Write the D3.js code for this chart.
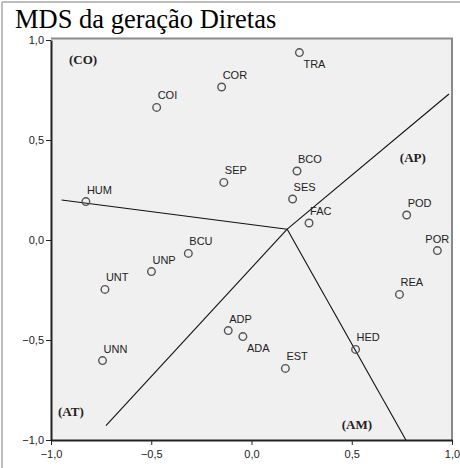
<!DOCTYPE html>
<html lang="pt">
<head>
<meta charset="UTF-8" />
<title>MDS da geração Diretas</title>
<script src="https://d3js.org/d3.v7.min.js"></script>
<style>
body {
    margin: 0;
    padding: 0;
    background: #fff;
}
svg {
    display: block;
}
.tick text {
    font-family: Arial, "Liberation Sans", sans-serif;
    font-size: 11px;
    fill: #222;
}
.pt-label {
    font-family: Arial, "Liberation Sans", sans-serif;
    font-size: 11px;
    fill: #222;
}
.region {
    font-family: "Liberation Serif", "Times New Roman", serif;
    font-size: 13px;
    font-weight: bold;
    fill: #222;
}
</style>
</head>
<body>
<svg width="460" height="468"></svg>
<script>
// point names and coordinates
const names = ["TRA", "COR", "COI", "SEP", "HUM", "BCO", "SES", "FAC", "POD", "POR",
               "REA", "HED", "EST", "ADA", "ADP", "BCU", "UNP", "UNT", "UNN"];
const dimX = [0.239, -0.149, -0.473, -0.138, -0.826, 0.227, 0.205, 0.287, 0.774, 0.927,
              0.738, 0.519, 0.169, -0.043, -0.116, -0.315, -0.499, -0.731, -0.743];
const dimY = [0.937, 0.765, 0.663, 0.288, 0.192, 0.345, 0.205, 0.085, 0.125, -0.053,
              -0.272, -0.547, -0.642, -0.483, -0.453, -0.067, -0.158, -0.247, -0.603];
// where the label sits relative to the point
const labelPos = ["below", "above", "above", "above", "above", "above", "above", "above", "above", "aboveLeft",
                  "above", "above", "above", "below", "above", "above", "above", "above", "above"];

// partition lines from the centre point
const centre = [0.178, 0.054];
const rayEnds = [[-0.947, 0.2], [0.985, 0.73], [-0.726, -0.928], [0.77, -1.0]];

// region labels
const regions = ["(CO)", "(AP)", "(AT)", "(AM)"];
const regionX = [-0.91, 0.74, -0.965, 0.45];
const regionY = [0.88, 0.39, -0.878, -0.943];

const xTicks = [-1, -0.5, 0, 0.5, 1];
const yTicks = [-1, -0.5, 0, 0.5, 1];

const svg = d3.select("svg");
const m = { left: 51, right: 452, top: 40, bottom: 440 };

const x = d3.scaleLinear().domain([-1, 1]).range([m.left, m.right]);
const y = d3.scaleLinear().domain([-1, 1]).range([m.bottom, m.top]);
const fmt = d => d3.format(".1f")(d).replace(".", ",");

// outer frame of the page
svg.append("line").attr("x1", 2).attr("x2", 460).attr("y1", 2).attr("y2", 2)
    .style("stroke", "#bdbdbd").style("stroke-width", 2);
svg.append("line").attr("x1", 2).attr("x2", 2).attr("y1", 2).attr("y2", 468)
    .style("stroke", "#bdbdbd").style("stroke-width", 2);

svg.append("text")
    .attr("x", 15).attr("y", 27.5)
    .style("font-family", "'Liberation Serif', 'Times New Roman', serif")
    .style("font-size", "26.5px")
    .style("fill", "#000")
    .text("MDS da geração Diretas");

// plot area
svg.append("rect")
    .attr("x", m.left).attr("y", m.top - 1.5)
    .attr("width", m.right - m.left).attr("height", m.bottom - m.top + 1.5)
    .style("fill", "#f0f0f0");

svg.append("path")
    .attr("d", `M${m.left},${m.top - 1.5}H${m.right}V${m.bottom}`)
    .style("fill", "none").style("stroke", "#8a8a8a").style("stroke-width", 2);

const xAxis = svg.append("g")
    .attr("transform", `translate(0,${m.bottom})`)
    .call(d3.axisBottom(x).tickValues(xTicks).tickFormat(fmt).tickSize(5).tickSizeOuter(0));
const yAxis = svg.append("g")
    .attr("transform", `translate(${m.left},0)`)
    .call(d3.axisLeft(y).tickValues(yTicks).tickFormat(fmt).tickSize(5).tickSizeOuter(0));
[xAxis, yAxis].forEach(a => {
    a.select(".domain").style("stroke", "#222").style("stroke-width", 2);
    a.selectAll(".tick line").style("stroke", "#222");
});
xAxis.selectAll(".tick text").attr("dy", "0.9em");
yAxis.selectAll(".tick text").attr("dx", "1px");

// partition lines
const g = svg.append("g");
rayEnds.forEach(e => {
    g.append("line")
        .attr("x1", x(centre[0])).attr("y1", y(centre[1]))
        .attr("x2", x(e[0])).attr("y2", y(e[1]))
        .style("stroke", "#111").style("stroke-width", 1.1);
});

// points
const pts = names.map((n, i) => ({ name: n, x: dimX[i], y: dimY[i], pos: labelPos[i] }));

g.selectAll(".pt")
    .data(pts)
    .enter()
    .append("circle")
    .attr("cx", d => x(d.x))
    .attr("cy", d => y(d.y))
    .attr("r", 3.8)
    .style("fill", "none")
    .style("stroke", "#555")
    .style("stroke-width", 1.4);

g.selectAll(".pt-label")
    .data(pts)
    .enter()
    .append("text")
    .attr("class", "pt-label")
    .attr("x", d => x(d.x) + (d.pos === "aboveLeft" ? -12 : (d.pos === "below" ? 4 : 1)))
    .attr("y", d => y(d.y) + (d.pos === "below" ? 15 : -8))
    .text(d => d.name);

// region labels
regions.forEach((r, i) => {
    g.append("text")
        .attr("class", "region")
        .attr("x", x(regionX[i]))
        .attr("y", y(regionY[i]))
        .text(r);
});
</script>
</body>
</html>
